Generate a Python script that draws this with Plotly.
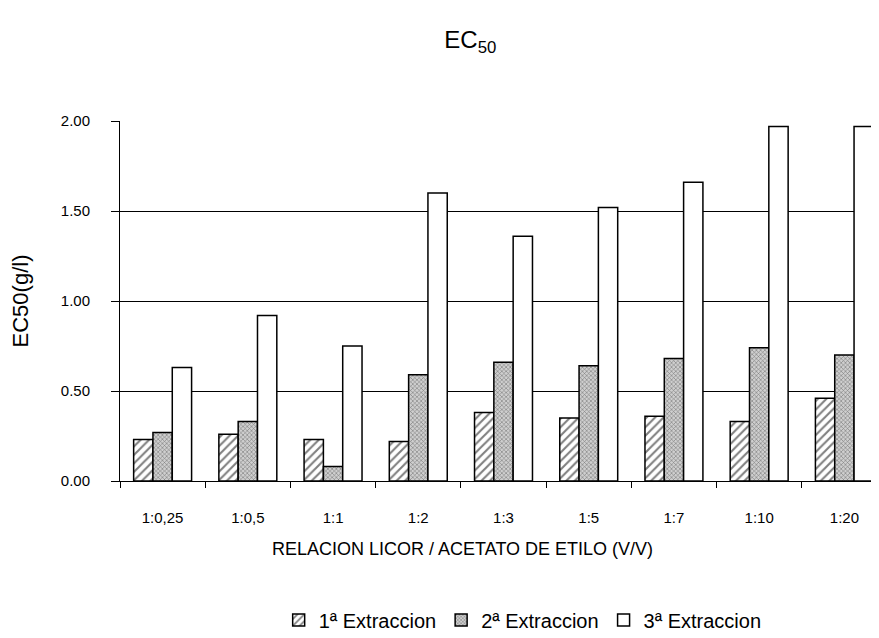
import plotly.graph_objects as go

categories = ["1:0,25", "1:0,5", "1:1", "1:2", "1:3", "1:5", "1:7", "1:10", "1:20"]
ext1 = [0.23, 0.26, 0.23, 0.22, 0.38, 0.35, 0.36, 0.33, 0.46]
ext2 = [0.27, 0.33, 0.08, 0.59, 0.66, 0.64, 0.68, 0.74, 0.70]
ext3 = [0.63, 0.92, 0.75, 1.60, 1.36, 1.52, 1.66, 1.97, 1.97]
series_names = ["1ª Extraccion", "2ª Extraccion", "3ª Extraccion"]
y_ticks = [0.0, 0.5, 1.0, 1.5, 2.0]
y_tick_labels = ["0.00", "0.50", "1.00", "1.50", "2.00"]
x_title = "RELACION LICOR / ACETATO DE ETILO (V/V)"

FONT = "Liberation Sans, Arial, sans-serif"

fig = go.Figure()
fig.add_trace(go.Bar(
    x=categories, y=ext1, name=series_names[0],
    marker=dict(color="white", line=dict(color="black", width=1.5),
                pattern=dict(shape="/", fgcolor="black", bgcolor="white", size=6, solidity=0.35)),
))
fig.add_trace(go.Bar(
    x=categories, y=ext2, name=series_names[1],
    marker=dict(color="white", line=dict(color="black", width=1.5),
                pattern=dict(shape="x", fgcolor="#222222", bgcolor="#cfcfcf", size=3, solidity=0.35)),
))
fig.add_trace(go.Bar(
    x=categories, y=ext3, name=series_names[2],
    marker=dict(color="white", line=dict(color="black", width=1.5)),
))

fig.update_layout(
    width=879, height=638,
    paper_bgcolor="white", plot_bgcolor="white",
    margin=dict(l=112, r=0, t=113, b=165),
    barmode="group", bargap=0.32, bargroupgap=0.0,
    font=dict(family=FONT, color="black"),
    title=dict(text="EC<sub>50</sub>", x=0.526, xanchor="center", xref="container",
               y=0.95, yanchor="middle", yref="container",
               font=dict(size=24, family=FONT, color="black")),
    legend=dict(orientation="h", x=0.525, xanchor="center", xref="paper",
                y=-0.386, yanchor="middle", font=dict(size=20, family=FONT),
                traceorder="normal", itemwidth=30),
    showlegend=True,
    annotations=[dict(text=x_title, xref="paper", yref="paper", x=0.446, y=-0.19,
                      xanchor="center", yanchor="middle", showarrow=False,
                      font=dict(size=18, family=FONT, color="black"))],
)
fig.update_xaxes(
    type="category", range=[-0.5, 8.5],
    showline=True, linecolor="black", linewidth=1,
    ticks="outside", tickson="boundaries", ticklen=6, tickcolor="black",
    tickfont=dict(size=15, family=FONT), ticklabelstandoff=23,
    showgrid=False,
)
fig.update_yaxes(
    range=[0, 2.0], tickvals=y_ticks, ticktext=y_tick_labels,
    showline=True, linecolor="black", linewidth=1,
    ticks="outside", ticklen=8, tickcolor="black",
    tickfont=dict(size=15, family=FONT), ticklabelstandoff=18,
    showgrid=True, gridcolor="black", gridwidth=1,
    zeroline=False,
    title=dict(text="EC50(g/l)", font=dict(size=22, family=FONT), standoff=26),
)

fig.write_html("out.html")
